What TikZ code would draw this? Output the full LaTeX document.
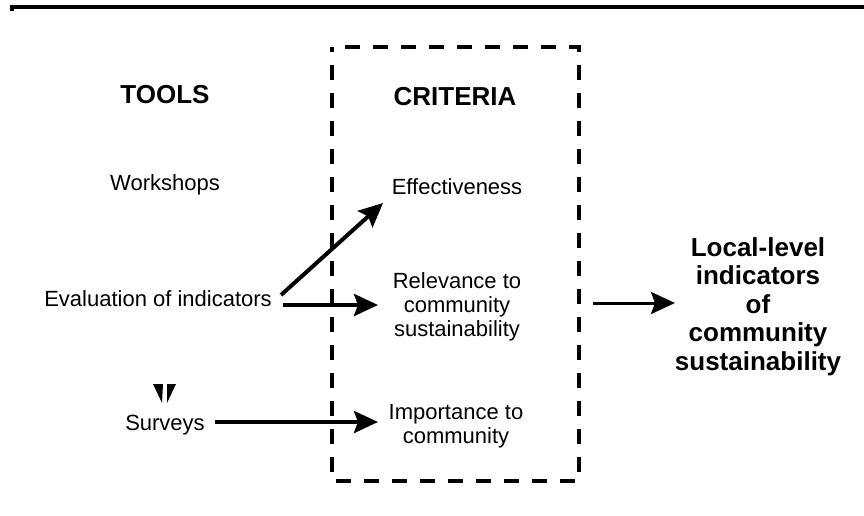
\documentclass[tikz,border=0pt]{standalone}
\usepackage{fontspec}
\setmainfont{Liberation Sans}
\usetikzlibrary{arrows.meta}

\begin{document}
\begin{tikzpicture}[x=1pt,y=-1pt,
  txt/.style={font=\fontsize{22}{24}\selectfont,align=center,inner sep=0pt,anchor=base},
  head/.style={font=\fontsize{26}{28.5}\selectfont\bfseries,align=center,inner sep=0pt,anchor=base},
  link/.style={line width=4pt,-{Stealth[length=24pt,width=22pt,inset=4pt]}}]
  \useasboundingbox (0,0) rectangle (864,516);
  % rule along the top edge
  \draw[line width=4pt] (10,7) -- (864,7);
  \fill (10,5) rectangle (14,11);
  % dashed frame round the criteria
  \draw[line width=4pt,dash pattern=on 15pt off 13pt,dash phase=10pt] (332,47) rectangle (579,481);

  \node[head] (tools) at (165,104) {TOOLS};
  \node[head] (criteria) at (455,106) {CRITERIA};

  \node[txt] (workshops) at (165,190) {Workshops};
  \node[txt] (evaluation) at (158,306) {Evaluation of indicators};
  \node[txt] (surveys) at (165,430) {Surveys};
  % small mark over Surveys
  \fill (153,384) -- (163,384) -- (162,403) -- cycle;
  \fill (167,384) -- (176,384) -- (167,403) -- cycle;

  % multi-line nodes sit on their last line
  \node[txt] (effect) at (457,194) {Effectiveness};
  \node[txt] (relevance) at (457,336) {Relevance to\\community\\sustainability};
  \node[txt] (importance) at (456,443) {Importance to\\community};

  \node[head] (result) at (758,370) {Local-level\\indicators\\of\\community\\sustainability};

  \coordinate (evalup) at (281,295);
  \coordinate (evalmid) at (283,305);
  \coordinate (effin) at (383,203);
  \coordinate (relin) at (378,305);
  \coordinate (survout) at (215,422);
  \coordinate (impin) at (378,422);
  \coordinate (boxout) at (593,303);
  \coordinate (resin) at (675,303);

  \draw[link] (evalup) -- (effin);
  \draw[link] (evalmid) -- (relin);
  \draw[link] (survout) -- (impin);
  \draw[link,line width=3pt] (boxout) -- (resin);
\end{tikzpicture}
\end{document}
